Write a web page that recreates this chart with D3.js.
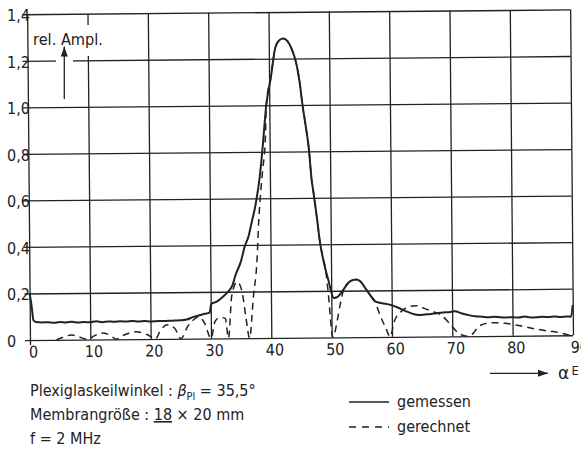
<!DOCTYPE html>
<html><head><meta charset="utf-8">
<script src="https://cdn.jsdelivr.net/npm/d3@7/dist/d3.min.js"></script>
<style>html,body{margin:0;padding:0;background:#fff}svg{display:block}</style>
</head><body>
<svg id="chart" width="581" height="451"></svg>
<script>
// ---- data ----
const xTicks = [0,10,20,30,40,50,60,70,80,90];
const xTickLabels = ["0","10","20","30","40","50","60","70","80","90"];
const yTicks = [0,0.2,0.4,0.6,0.8,1.0,1.2,1.4];
const yTickLabels = ["0","0,2","0,4","0,6","0,8","1,0","1,2","1,4"];

// gemessen (measured)
const measuredAngle = [0,0.3,0.6,1,2,3,4,5,6,7,8,9,10,11,12,13,14,15,16,17,18,19,20,21,22,23,24,25,26,27,28,29,29.8,30.1,31,32,33,33.7,34.1,35.1,35.7,36.4,36.9,37.4,37.7,38.3,38.8,39.5,40.3,41.1,41.8,42.4,43.1,43.8,44.6,45.1,45.5,46.0,46.5,46.9,47.2,47.7,48.2,48.6,49.1,49.6,49.9,50.4,50.8,51.2,52.1,52.9,53.6,54.2,54.9,55.6,56.4,57.2,58,59,60,61,62.3,63.5,64.5,65.5,66.5,67.2,68.5,69.5,70.5,71.5,72.5,73.8,75,76,77,78,79,80,81,82,83,84,85,86,87,88,89,89.7,90];
const measuredAmp   = [0.20,0.15,0.085,0.077,0.075,0.076,0.073,0.076,0.074,0.077,0.073,0.075,0.074,0.078,0.074,0.077,0.075,0.077,0.076,0.078,0.075,0.077,0.075,0.076,0.077,0.077,0.078,0.079,0.082,0.092,0.099,0.106,0.111,0.148,0.158,0.178,0.203,0.232,0.267,0.332,0.392,0.44,0.496,0.55,0.59,0.69,0.81,1.0,1.12,1.25,1.28,1.286,1.275,1.24,1.17,1.09,1.0,0.91,0.81,0.68,0.623,0.52,0.41,0.35,0.29,0.24,0.206,0.169,0.171,0.178,0.208,0.235,0.246,0.248,0.238,0.212,0.182,0.154,0.147,0.142,0.136,0.126,0.11,0.098,0.093,0.095,0.097,0.099,0.103,0.104,0.108,0.099,0.092,0.085,0.083,0.081,0.083,0.080,0.079,0.080,0.078,0.082,0.078,0.079,0.081,0.079,0.081,0.079,0.081,0.080,0.13];

// gerechnet (computed)
const computedAngle = [4.4,5.5,6.9,8,9,9.7,10.5,11.9,13.2,14.3,15.5,17.5,19.5,20.8,21.6,22.8,24,25,26.2,27.3,28,29,30,30.7,31.5,32.4,32.9,33.5,34.4,35.2,35.8,36.4,37.1,37.7,38.1,38.5,38.8,39.3,39.5,40.3,41.1,41.8,42.4,43.1,43.8,44.6,45.1,45.5,46.0,46.5,46.9,47.2,47.7,48.2,48.6,49.1,49.5,50.2,51,51.6,52.1,52.9,53.6,54.2,54.9,55.6,56.4,57.2,58,59,59.7,60.4,61.5,62.5,64,65.5,67,68,69.7,71,72.5,73.5,74.4,76.6,78.8,81,84.3,87.6,89.5];
const computedAmp   = [0,0.011,0.02,0.013,0.003,0,0.013,0.027,0.019,0,0.017,0.031,0.018,0,0.035,0.06,0.045,0,0.054,0.084,0.094,0.064,0,0.073,0.09,0.085,0,0.182,0.242,0.202,0.092,0,0.18,0.32,0.51,0.64,0.72,0.86,1.0,1.12,1.25,1.28,1.286,1.275,1.24,1.17,1.09,1.0,0.91,0.81,0.68,0.623,0.52,0.41,0.35,0.29,0.19,0,0.078,0.158,0.208,0.235,0.246,0.248,0.238,0.212,0.182,0.154,0.097,0.037,0,0.066,0.107,0.125,0.133,0.12,0.105,0.095,0.051,0.014,0,0.013,0.043,0.057,0.054,0.044,0.026,0.012,0];

const legendLabels = ["gemessen","gerechnet"];

// ---- drawing ----
const INK = "#222";
const FONT = "'DejaVu Sans Condensed','Liberation Sans Narrow','Liberation Sans',Arial,sans-serif";
const svg = d3.select("#chart").style("font-family", FONT);
svg.append("rect").attr("width",581).attr("height",451).attr("fill","#fff");

const x = d3.scaleLinear().domain([0,90]).range([30,573]);
const y = d3.scaleLinear().domain([0,1.4]).range([340,14.2]);

const rot = "rotate(-0.5,30,340)";
const grid = svg.append("g").attr("transform", rot);

// vertical grid via axis
const gx = grid.append("g").attr("transform","translate(0,340)")
  .call(d3.axisBottom(x).tickValues(xTicks).tickSize(-(340-14.2)).tickPadding(0)
        .tickFormat((d,i)=>xTickLabels[i]));
gx.select(".domain").remove();
gx.selectAll(".tick line").attr("stroke",INK).attr("stroke-width",1.3).attr("y2",-(340-14.2)).attr("y1",(d)=>d===0?5:0);
gx.selectAll(".tick text").attr("fill",INK).attr("font-size",16).attr("dy",null)
  .attr("y",17.5).attr("x",3).attr("font-family",FONT)
  .attr("text-anchor",(d)=>d===90?"start":"middle")
  .attr("dx",(d)=>d===90?-6:0);

// horizontal grid via axis
const gy = grid.append("g").attr("transform","translate(30,0)")
  .call(d3.axisLeft(y).tickValues(yTicks).tickSize(-(573-30)).tickFormat(""));
gy.select(".domain").remove();
gy.selectAll(".tick line").attr("stroke",INK).attr("stroke-width",1.3).attr("x1",-5);

// y tick labels (unrotated column)
svg.append("g").selectAll("text").data(yTicks).join("text")
  .attr("x",7).attr("y",d=>y(d)+7).attr("font-size",16).attr("fill",INK)
  .text((d,i)=>yTickLabels[i]);

// white masks behind the axis title
svg.append("rect").attr("x",31).attr("y",25).attr("width",74).attr("height",31).attr("fill","#fff");
svg.append("rect").attr("x",56).attr("y",56).attr("width",17).attr("height",10).attr("fill","#fff");

svg.append("text").attr("x",33).attr("y",45).attr("font-size",16).attr("fill",INK)
  .attr("textLength",70).attr("lengthAdjust","spacingAndGlyphs").text("rel. Ampl.");

// arrow markers
const defs = svg.append("defs");
defs.append("marker").attr("id","ah").attr("viewBox","0 0 10 10").attr("refX",10).attr("refY",5)
  .attr("markerWidth",10).attr("markerHeight",10).attr("markerUnits","userSpaceOnUse").attr("orient","auto")
  .append("path").attr("d","M0,1.5 L10,5 L0,8.5 Z").attr("fill",INK);
svg.append("line").attr("x1",64.3).attr("x2",64.3).attr("y1",99).attr("y2",46.5)
  .attr("stroke",INK).attr("stroke-width",1.3).attr("marker-end","url(#ah)");

// curves
const curves = svg.append("g").attr("transform", rot);
const line = d3.line().x(d=>x(d[0])).y(d=>y(d[1])).curve(d3.curveMonotoneX);
const meas = measuredAngle.map((a,i)=>[a,measuredAmp[i]]);
const comp = computedAngle.map((a,i)=>[a,computedAmp[i]]);
curves.append("path").attr("d",line(comp)).attr("fill","none").attr("stroke",INK)
  .attr("stroke-width",1.5).attr("stroke-dasharray","7,5");
curves.append("path").attr("d",line(meas)).attr("fill","none").attr("stroke",INK)
  .attr("stroke-width",2).attr("stroke-linejoin","round");

// x-axis title arrow
svg.append("line").attr("x1",490).attr("x2",548).attr("y1",373.3).attr("y2",373.3)
  .attr("stroke",INK).attr("stroke-width",1.3).attr("marker-end","url(#ah)");
svg.append("text").attr("x",558).attr("y",379).attr("fill",INK)
  .attr("font-size",17).attr("font-family","'DejaVu Sans',sans-serif").text("α");
svg.append("text").attr("x",571.5).attr("y",375).attr("fill",INK)
  .attr("font-size",13).text("E");

// notes
const n1 = svg.append("text").attr("x",30).attr("y",396).attr("font-size",16).attr("fill",INK);
n1.append("tspan").text("Plexiglaskeilwinkel : ");
n1.append("tspan").attr("font-style","italic").text("β");
n1.append("tspan").attr("font-size",11).attr("dy",4).text("Pl");
n1.append("tspan").attr("dy",-4).text(" = 35,5°");

const n2 = svg.append("text").attr("x",30).attr("y",420).attr("font-size",16).attr("fill",INK);
n2.append("tspan").text("Membrangröße : ");
n2.append("tspan").attr("text-decoration","underline").text("18");
n2.append("tspan").text(" × 20 mm");

svg.append("text").attr("x",30).attr("y",444).attr("font-size",16).attr("fill",INK)
  .text("f = 2 MHz");

// legend
const legend = svg.append("g");
const legY = [402, 427];
const legDash = [null, "7,6"];
legend.selectAll("line").data(legendLabels).join("line")
  .attr("x1",349).attr("x2",389).attr("y1",(d,i)=>legY[i]).attr("y2",(d,i)=>legY[i])
  .attr("stroke",INK).attr("stroke-width",1.5).attr("stroke-dasharray",(d,i)=>legDash[i]);
legend.selectAll("text").data(legendLabels).join("text")
  .attr("x",397).attr("y",(d,i)=>legY[i]+5).attr("font-size",16).attr("fill",INK)
  .text(d=>d);
</script>
</body></html>
